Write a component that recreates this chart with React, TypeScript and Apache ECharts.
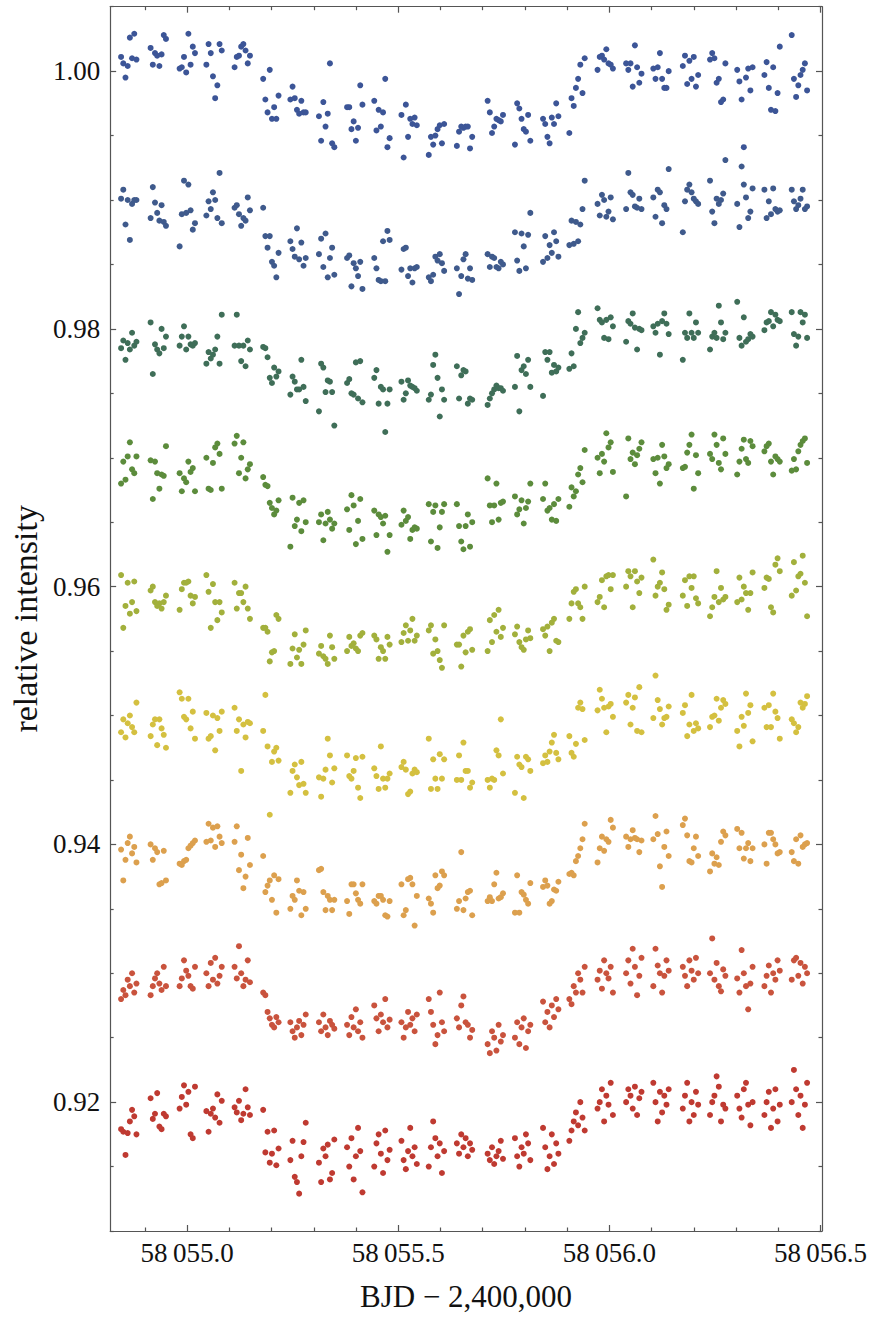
import React, { useEffect, useRef } from "react";
import * as echarts from "echarts";

// Observation sampling: centre time of each visit (BJD - 2,400,000) and the offsets of the 8 exposures inside it
const CLUSTER_MID = [
  58054.8617, 58054.9316, 58055.0003, 58055.0637, 58055.1305, 58055.1982, 58055.2626,
  58055.3303, 58055.3969, 58055.4613, 58055.5257, 58055.5904, 58055.6569, 58055.7298,
  58055.7945, 58055.861, 58055.9233, 58055.9901, 58056.0578, 58056.1222, 58056.192,
  58056.2565, 58056.3209, 58056.3853, 58056.45,
];
const OFFSETS = [-0.0182, -0.013, -0.0078, -0.0026, 0.0026, 0.0078, 0.013, 0.0182];

// Relative intensity in units of 1e-4 (value / 10000)
const S1 = [
  10011,10006,9995,10004,10026,10010,10029,10009, 10018,10005,10014,10012,10004,10013,10028,10025,
  10002,10003,10011,9999,10029,10005,10019,10014, 10005,10021,10014,9996,9979,9989,10021,10016,
  10003,10011,10012,10019,10021,10016,10006,10012, 9994,9978,9968,10001,9963,9972,9963,9981,
  9978,9988,9979,9970,9967,9977,9968,9968, 9965,9946,9976,9957,9967,10006,9944,9941,
  9972,9972,9955,9961,9946,9956,9989,9974, 9977,9954,9970,9957,9968,9994,9941,9948,
  9966,9933,9974,9949,9963,9959,9964,9958, 9935,9949,9943,9950,9955,9958,9944,9959,
  9942,9953,9957,9956,9957,9957,9940,9949, 9977,9968,9952,9957,9963,9962,9961,9966,
  9943,9975,9971,9963,9955,9953,9966,9946, 9963,9959,9949,9944,9964,9959,9975,9965,
  9952,9979,9973,9987,9994,10005,9983,10010, 10001,10011,10012,10009,10017,10006,10005,10002,
  10006,10001,10006,9988,10020,10003,9991,9998, 10002,9994,10003,10014,9994,9987,9987,10000,
  10004,10012,9990,10008,9994,10011,9988,9997, 10009,10014,10010,9991,9994,9976,9978,10006,
  10001,9992,9978,9941,9995,10002,9985,10003, 9997,10007,9987,9970,10003,9969,9983,10019,
  10028,9994,9980,9989,9997,10001,10006,9985,
];
const S2 = [
  9901,9908,9881,9900,9869,9897,9900,9900, 9886,9910,9898,9890,9884,9896,9883,9880,
  9864,9889,9915,9890,9912,9892,9877,9882, 9888,9899,9893,9906,9900,9886,9921,9882,
  9894,9896,9889,9880,9886,9884,9902,9892, 9894,9872,9863,9872,9852,9849,9840,9859,
  9868,9862,9856,9878,9854,9867,9849,9855, 9858,9870,9848,9874,9840,9855,9863,9842,
  9855,9857,9833,9851,9847,9841,9852,9831, 9855,9847,9838,9837,9868,9837,9876,9869,
  9846,9862,9863,9841,9847,9836,9847,9848, 9840,9837,9842,9856,9853,9858,9851,9845,
  9847,9827,9841,9854,9858,9839,9847,9838, 9858,9848,9856,9855,9848,9847,9852,9850,
  9875,9853,9845,9874,9864,9847,9873,9890, 9852,9872,9855,9865,9859,9875,9868,9856,
  9865,9884,9866,9883,9868,9881,9893,9915, 9897,9888,9904,9900,9887,9891,9902,9885,
  9893,9921,9906,9904,9895,9894,9901,9893, 9902,9887,9908,9906,9882,9896,9893,9924,
  9875,9899,9908,9912,9906,9901,9899,9897, 9915,9891,9882,9901,9897,9900,9905,9931,
  9897,9879,9926,9912,9902,9886,9891,9909, 9908,9886,9899,9889,9909,9893,9891,9892,
  9908,9899,9893,9896,9901,9908,9893,9895,
];
const S3 = [
  9785,9791,9776,9789,9784,9797,9787,9790, 9805,9765,9788,9784,9781,9800,9785,9794,
  9787,9794,9802,9784,9794,9788,9787,9789, 9773,9782,9777,9780,9784,9794,9773,9811,
  9787,9811,9787,9775,9787,9771,9791,9784, 9786,9785,9778,9762,9758,9770,9763,9767,
  9749,9763,9759,9753,9753,9776,9755,9744, 9736,9773,9770,9751,9760,9759,9751,9725,
  9758,9761,9750,9749,9774,9746,9775,9743, 9762,9768,9742,9755,9753,9720,9742,9753,
  9759,9745,9750,9760,9756,9755,9754,9752, 9745,9749,9772,9780,9762,9732,9753,9745,
  9771,9746,9764,9768,9767,9742,9746,9745, 9741,9746,9750,9753,9756,9754,9754,9752,
  9755,9779,9736,9768,9771,9765,9776,9755, 9748,9782,9776,9782,9766,9772,9767,9770,
  9769,9781,9771,9800,9813,9789,9793,9797, 9816,9807,9805,9793,9807,9792,9809,9802,
  9790,9806,9804,9812,9801,9784,9800,9799, 9802,9797,9804,9780,9806,9812,9804,9796,
  9776,9797,9793,9812,9797,9793,9805,9797, 9784,9794,9797,9793,9818,9805,9792,9797,
  9821,9793,9787,9809,9790,9792,9796,9794, 9799,9805,9806,9813,9802,9811,9807,9806,
  9813,9796,9787,9794,9813,9805,9811,9793,
];
const S4 = [
  9680,9697,9683,9701,9712,9691,9688,9701, 9698,9668,9697,9688,9676,9687,9686,9709,
  9688,9674,9684,9681,9697,9689,9692,9674, 9700,9676,9675,9696,9708,9711,9703,9676,
  9711,9717,9688,9700,9712,9684,9691,9695, 9685,9679,9678,9665,9661,9656,9659,9667,
  9631,9669,9647,9652,9665,9643,9667,9650, 9650,9656,9636,9649,9658,9652,9645,9649,
  9660,9644,9671,9663,9633,9651,9668,9637, 9659,9640,9656,9654,9649,9655,9627,9640,
  9648,9659,9651,9654,9637,9644,9646,9645, 9664,9635,9658,9663,9630,9646,9658,9664,
  9664,9647,9635,9629,9647,9656,9631,9650, 9684,9663,9650,9663,9680,9652,9665,9666,
  9670,9656,9660,9667,9649,9661,9666,9680, 9668,9680,9659,9661,9652,9664,9651,9668,
  9662,9677,9670,9674,9687,9692,9681,9706, 9700,9688,9703,9697,9719,9708,9712,9689,
  9670,9715,9699,9704,9695,9702,9707,9712, 9699,9688,9700,9680,9710,9701,9692,9695,
  9692,9693,9704,9710,9718,9676,9702,9688, 9703,9699,9718,9710,9696,9691,9715,9703,
  9687,9697,9707,9714,9699,9696,9713,9709, 9705,9709,9711,9697,9687,9701,9699,9697,
  9690,9699,9691,9705,9710,9713,9715,9696,
];
const S5 = [
  9609,9568,9585,9603,9579,9588,9604,9581, 9597,9600,9588,9585,9587,9583,9588,9593,
  9582,9598,9603,9603,9604,9593,9587,9592, 9609,9596,9568,9602,9588,9574,9588,9580,
  9603,9583,9595,9595,9588,9600,9583,9575, 9568,9568,9565,9542,9549,9550,9578,9575,
  9540,9552,9563,9545,9551,9540,9555,9566, 9548,9554,9546,9544,9540,9562,9553,9544,
  9550,9561,9554,9556,9552,9550,9562,9564, 9562,9559,9544,9553,9550,9544,9561,9555,
  9557,9564,9570,9558,9566,9575,9558,9562, 9566,9570,9548,9559,9550,9543,9537,9570,
  9555,9555,9538,9562,9549,9565,9567,9551, 9550,9574,9557,9578,9565,9582,9561,9568,
  9563,9569,9557,9553,9551,9559,9566,9560, 9567,9562,9569,9550,9572,9575,9558,9557,
  9575,9587,9596,9598,9587,9584,9575,9600, 9588,9592,9605,9584,9608,9609,9598,9609,
  9600,9612,9608,9584,9612,9604,9595,9607, 9621,9593,9600,9603,9611,9598,9582,9586,
  9593,9605,9585,9608,9599,9608,9591,9587, 9577,9584,9592,9612,9588,9599,9590,9592,
  9588,9607,9590,9600,9595,9582,9595,9611, 9599,9607,9606,9584,9580,9617,9622,9612,
  9593,9619,9597,9608,9610,9624,9603,9577,
];
const S6 = [
  9487,9497,9483,9494,9500,9491,9487,9510, 9484,9493,9497,9477,9497,9490,9485,9475,
  9518,9513,9499,9497,9513,9490,9503,9482, 9502,9482,9484,9500,9473,9498,9488,9503,
  9506,9488,9497,9457,9493,9483,9495,9494, 9488,9516,9476,9423,9464,9472,9475,9465,
  9440,9457,9462,9452,9446,9464,9447,9440, 9452,9437,9451,9458,9482,9469,9448,9459,
  9469,9453,9451,9457,9467,9444,9436,9468, 9459,9453,9443,9476,9451,9444,9451,9455,
  9460,9464,9458,9439,9441,9455,9458,9456, 9482,9443,9466,9451,9443,9470,9451,9466,
  9450,9469,9450,9479,9457,9457,9444,9448, 9450,9444,9451,9450,9473,9469,9497,9455,
  9440,9468,9462,9460,9436,9468,9466,9457, 9463,9469,9464,9472,9479,9485,9471,9466,
  9484,9471,9468,9478,9506,9510,9505,9481, 9504,9520,9513,9506,9487,9507,9509,9499,
  9510,9516,9493,9506,9514,9488,9522,9487, 9498,9531,9512,9505,9493,9498,9499,9507,
  9502,9508,9484,9493,9516,9488,9494,9490, 9491,9499,9500,9513,9496,9506,9512,9509,
  9488,9476,9499,9492,9517,9502,9508,9480, 9506,9491,9508,9491,9517,9503,9498,9482,
  9497,9494,9487,9491,9510,9506,9509,9515,
];
const S7 = [
  9396,9372,9388,9401,9406,9393,9398,9386, 9400,9388,9397,9394,9369,9370,9395,9372,
  9385,9384,9387,9388,9397,9399,9401,9403, 9402,9416,9403,9413,9398,9414,9406,9401,
  9402,9414,9380,9392,9366,9375,9405,9384, 9391,9363,9368,9372,9357,9376,9347,9373,
  9350,9360,9357,9372,9364,9345,9363,9350, 9380,9381,9363,9349,9360,9357,9349,9357,
  9356,9346,9369,9369,9362,9357,9354,9369, 9356,9354,9360,9360,9357,9345,9344,9356,
  9369,9345,9349,9373,9374,9369,9337,9360, 9358,9354,9347,9376,9366,9368,9379,9376,
  9350,9356,9394,9349,9358,9363,9364,9345, 9356,9359,9356,9369,9378,9358,9359,9362,
  9347,9376,9347,9363,9361,9357,9354,9370, 9367,9372,9368,9354,9356,9365,9364,9371,
  9377,9378,9376,9387,9391,9397,9404,9416, 9386,9397,9406,9395,9404,9402,9419,9413,
  9406,9398,9404,9411,9405,9404,9394,9403, 9404,9422,9408,9383,9367,9398,9410,9391,
  9415,9420,9407,9387,9386,9397,9406,9391, 9379,9393,9385,9390,9384,9402,9410,9407,
  9412,9397,9409,9389,9397,9401,9387,9397, 9400,9385,9409,9409,9404,9400,9393,9394,
  9394,9387,9404,9385,9407,9398,9400,9401,
];
const S8 = [
  9280,9287,9283,9295,9290,9300,9285,9292, 9283,9290,9296,9300,9292,9287,9305,9290,
  9290,9296,9310,9302,9298,9290,9288,9305, 9300,9290,9308,9295,9312,9292,9298,9305,
  9305,9296,9321,9300,9290,9295,9310,9293, 9285,9283,9270,9265,9260,9258,9266,9262,
  9262,9255,9250,9258,9263,9252,9260,9268, 9262,9255,9268,9258,9252,9263,9260,9257,
  9260,9252,9266,9258,9272,9255,9262,9250, 9275,9265,9255,9268,9262,9280,9258,9264,
  9262,9250,9258,9270,9260,9265,9255,9268, 9280,9270,9260,9245,9252,9285,9262,9255,
  9265,9258,9275,9282,9262,9260,9250,9256, 9245,9238,9255,9250,9240,9260,9247,9252,
  9250,9262,9245,9258,9265,9242,9255,9260, 9278,9262,9270,9258,9275,9266,9280,9272,
  9280,9276,9290,9285,9300,9295,9285,9305, 9295,9302,9288,9310,9300,9296,9305,9285,
  9300,9310,9292,9319,9305,9283,9298,9312, 9290,9319,9306,9300,9285,9298,9310,9302,
  9305,9298,9290,9310,9302,9295,9312,9300, 9300,9327,9295,9308,9290,9286,9303,9298,
  9296,9285,9318,9300,9290,9272,9292,9305, 9290,9298,9306,9285,9300,9295,9310,9302,
  9295,9310,9312,9298,9308,9292,9305,9300,
];
const S9 = [
  9179,9177,9159,9176,9185,9194,9189,9175, 9203,9187,9191,9207,9181,9179,9191,9189,
  9195,9204,9213,9198,9208,9175,9172,9212, 9193,9177,9191,9195,9188,9206,9184,9201,
  9196,9192,9201,9186,9191,9210,9196,9190, 9194,9161,9177,9153,9160,9178,9151,9164,
  9155,9170,9142,9138,9129,9158,9169,9184, 9153,9138,9164,9158,9167,9140,9145,9171,
  9165,9150,9172,9140,9158,9180,9162,9130, 9150,9168,9175,9160,9145,9178,9155,9163,
  9170,9155,9148,9162,9180,9158,9165,9152, 9150,9165,9185,9172,9158,9168,9145,9162,
  9168,9160,9175,9165,9172,9158,9168,9163, 9160,9155,9165,9152,9158,9162,9170,9156,
  9172,9158,9150,9165,9160,9175,9168,9155, 9180,9165,9148,9158,9175,9152,9168,9160,
  9170,9178,9185,9192,9182,9200,9188,9178, 9195,9200,9210,9185,9205,9198,9215,9190,
  9200,9210,9205,9195,9212,9190,9203,9208, 9215,9200,9185,9208,9192,9205,9198,9210,
  9195,9205,9215,9185,9200,9190,9208,9198, 9190,9200,9205,9220,9212,9185,9198,9195,
  9205,9195,9188,9210,9215,9198,9182,9200, 9190,9200,9208,9180,9195,9210,9185,9198,
  9200,9225,9210,9190,9205,9180,9198,9215,
];

const SERIES = [S1, S2, S3, S4, S5, S6, S7, S8, S9];
const COLORS = [
  "#3c5597", "#3f5a8c", "#3f6e58", "#5c8c3c", "#a2b03c",
  "#d4c040", "#dca04e", "#c9533d", "#bf3a31",
];

const X_MIN = 58054.8176;
const X_MAX = 58056.5035;
const Y_MIN = 0.91;
const Y_MAX = 1.005;
const X_MAJOR = [58055.0, 58055.5, 58056.0, 58056.5];
const X_MINOR = [
  58054.9, 58055.1, 58055.2, 58055.3, 58055.4, 58055.6, 58055.7, 58055.8, 58055.9,
  58056.1, 58056.2, 58056.3, 58056.4,
];
const Y_MAJOR = [0.92, 0.94, 0.96, 0.98, 1.0];
const Y_MINOR = [
  0.91, 0.915, 0.925, 0.93, 0.935, 0.945, 0.95, 0.955, 0.965, 0.97, 0.975, 0.985, 0.99, 0.995, 1.005,
];

const FONT = "Liberation Serif";
const FRAME = "#555555";

export default function App() {
  const ref = useRef<HTMLDivElement>(null);

  useEffect(() => {
    if (!ref.current) return;
    const chart = echarts.init(ref.current, undefined, { renderer: "svg" });

    const lineStyle = { color: FRAME, width: 1.2 };
    const mkX = (pos: string, values: number[], len: number, withLine: boolean, withLabel: boolean) => ({
      type: "value",
      position: pos,
      gridIndex: 0,
      min: X_MIN,
      max: X_MAX,
      axisLine: { show: withLine, onZero: false, lineStyle },
      axisTick: { show: true, inside: true, length: len, customValues: values, lineStyle },
      axisLabel: withLabel
        ? {
            show: true,
            customValues: values,
            margin: 8,
            fontFamily: FONT,
            fontSize: 27,
            color: "#111",
            formatter: (v: number) => {
              const s = v.toFixed(1);
              return s.slice(0, 2) + "\u2009" + s.slice(2);
            },
          }
        : { show: false },
      splitLine: { show: false },
    });
    const mkY = (pos: string, values: number[], len: number, withLine: boolean, withLabel: boolean) => ({
      type: "value",
      position: pos,
      gridIndex: 0,
      min: Y_MIN,
      max: Y_MAX,
      axisLine: { show: withLine, onZero: false, lineStyle },
      axisTick: { show: true, inside: true, length: len, customValues: values, lineStyle },
      axisLabel: withLabel
        ? {
            show: true,
            customValues: values,
            margin: 10,
            fontFamily: FONT,
            fontSize: 27,
            color: "#111",
            formatter: (v: number) => v.toFixed(2),
          }
        : { show: false },
      splitLine: { show: false },
    });

    const x0: any = mkX("bottom", X_MAJOR, 6, true, true);
    x0.name = "BJD \u2212 2,400,000";
    x0.nameLocation = "middle";
    x0.nameGap = 50;
    x0.nameTextStyle = { fontFamily: FONT, fontSize: 31, color: "#111" };

    const y0: any = mkY("left", Y_MAJOR, 6, true, true);
    y0.name = "relative intensity";
    y0.nameLocation = "middle";
    y0.nameGap = 66;
    y0.nameTextStyle = { fontFamily: FONT, fontSize: 34, color: "#111" };

    const series = SERIES.map((vals, k) => ({
      type: "scatter",
      xAxisIndex: 0,
      yAxisIndex: 0,
      symbol: "circle",
      symbolSize: 6,
      itemStyle: { color: COLORS[k], opacity: 1 },
      data: vals.map((v, i) => [CLUSTER_MID[Math.floor(i / 8)] + OFFSETS[i % 8], v / 10000]),
    }));

    chart.setOption({
      animation: false,
      backgroundColor: "#ffffff",
      grid: { left: 108.5, right: 55, top: 6.7, bottom: 85, containLabel: false },
      xAxis: [
        x0,
        mkX("bottom", X_MINOR, 3.5, false, false),
        mkX("top", X_MAJOR, 6, true, false),
        mkX("top", X_MINOR, 3.5, false, false),
      ],
      yAxis: [
        y0,
        mkY("left", Y_MINOR, 3.5, false, false),
        mkY("right", Y_MAJOR, 6, true, false),
        mkY("right", Y_MINOR, 3.5, false, false),
      ],
      series,
    });

    return () => {
      chart.dispose();
    };
  }, []);

  return (
    <div
      ref={ref}
      style={{ position: "absolute", left: 0, top: 0, width: 877, height: 1317, background: "#fff" }}
    />
  );
}
